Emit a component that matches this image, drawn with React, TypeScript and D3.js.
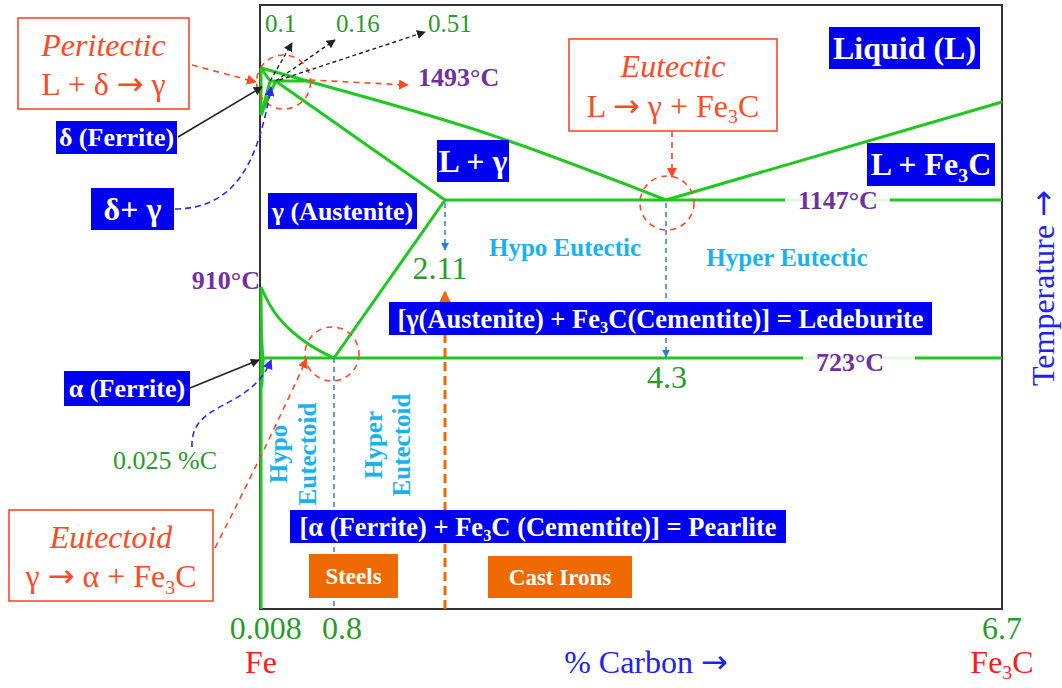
import * as d3 from "d3";

const W = 1062;
const H = 688;

// schematic axes: knots of carbon % and temperature (the diagram is not to scale)
const carbonKnots = [0, 0.8, 2.11, 4.3, 6.7];
const tempKnots = [0, 723, 910, 1147, 1493, 1538, 1780];

// phase boundaries, [wt% C, °C]
const feAxisDelta = [[0, 1538], [0, 1394]];
const feAxisAlpha = [[0, 910], [0, 0]];
const liquidus = [[0, 1538], [0.51, 1493], [2.55, 1338], [4.3, 1147]];
const liquidusFe3C = [[4.3, 1147], [6.7, 1432]];
const solidusAH = [[0, 1538], [0.1, 1493]];
const peritecticLine = [[0.1, 1493], [0.51, 1493]];
const deltaNH = [[0, 1394], [0.1, 1493]];
const deltaNJ = [[0, 1394], [0.16, 1493]];
const solidusJE = [[0.16, 1493], [2.11, 1147]];
const eutecticLine = [[2.11, 1147], [6.7, 1147]];
const a3Line = [[0, 910], [0.19, 830], [0.33, 795], [0.55, 755], [0.69, 736], [0.8, 723]];
const acmLine = [[0.8, 723], [2.11, 1147]];
const eutectoidLine = [[0.025, 723], [6.7, 723]];
const alphaGP = [[0, 910], [0.01, 790], [0.025, 723]];
const solvusPQ = [[0.025, 723], [0.008, 640]];

// labels
const peritecticComps = [0.1, 0.16, 0.51];
const peritecticLabels = ["0.1", "0.16", "0.51"];
const bottomTicks = [0.008, 0.8, 6.7];
const bottomTickLabels = ["0.008", "0.8", "6.7"];
const keyTemps = { peritectic: 1493, eutectic: 1147, a3: 910, eutectoid: 723 };
const keyComps = { E: 2.11, C: 4.3, S: 0.8 };

const serif = "'Liberation Serif', 'Times New Roman', serif";
const arrowFont = "'DejaVu Sans', sans-serif";
const GREEN = "#1ec81e";
const LABEL_GREEN = "#2a9a2a";
const PURPLE = "#7030a0";
const BLUE_BOX = "#0000f0";
const ORANGE = "#ee6a00";
const RED = "#ff4a26";
const SKY = "#19b2f0";

const x = d3.scaleLinear().domain(carbonKnots).range([261, 334, 445, 666, 1002]);
const y = d3.scaleLinear().domain(tempKnots).range([609, 358, 287, 200, 81, 68, 5]);

const line = d3.line<number[]>().x(d => x(d[0])).y(d => y(d[1]));
const smoothX = d3.line<number[]>().x(d => x(d[0])).y(d => y(d[1])).curve(d3.curveMonotoneX);
const smoothY = d3.line<number[]>().x(d => x(d[0])).y(d => y(d[1])).curve(d3.curveMonotoneY);

function fe3c(size: number, key: string) {
  return [
    <tspan key={key + "a"}>Fe</tspan>,
    <tspan key={key + "b"} dy={size * 0.2} fontSize={size * 0.62}>3</tspan>,
    <tspan key={key + "c"} dy={-size * 0.2}>C</tspan>,
  ];
}

const arrow = (key: string) => <tspan key={key} fontFamily={arrowFont}>→</tspan>;

function Tag({ x0, y0, w, h, size, fill, children }: any) {
  return (
    <g>
      <rect x={x0} y={y0} width={w} height={h} fill={fill} />
      <text x={x0 + w / 2} y={y0 + h / 2} dy="0.34em" textAnchor="middle" fontSize={size}
        fontWeight="bold" fill="#fff" fontFamily={serif}>{children}</text>
    </g>
  );
}

function RedBox({ x0, y0, w, h, title, children }: any) {
  return (
    <g fontFamily={serif} fill={RED}>
      <rect x={x0} y={y0} width={w} height={h} fill="#fff" stroke={RED} strokeWidth={1.6} />
      <text x={x0 + w / 2} y={y0 + h * 0.3} dy="0.34em" textAnchor="middle" fontSize={32} fontStyle="italic">{title}</text>
      <text x={x0 + w / 2} y={y0 + h * 0.73} dy="0.34em" textAnchor="middle" fontSize={32}>{children}</text>
    </g>
  );
}

export default function App() {
  const boundaries = [feAxisDelta, feAxisAlpha, liquidusFe3C, solidusAH, peritecticLine,
    deltaNH, deltaNJ, solidusJE, eutecticLine, acmLine, eutectoidLine, solvusPQ];

  const pP = [x(0.16), y(keyTemps.peritectic)];
  const pE = [x(keyComps.E), y(keyTemps.eutectic)];
  const pC = [x(keyComps.C), y(keyTemps.eutectic)];
  const pS = [x(keyComps.S), y(keyTemps.eutectoid)];

  const marker = (id: string, color: string, s = 8) => (
    <marker id={id} viewBox="0 0 10 10" refX={9} refY={5} markerWidth={s} markerHeight={s}
      markerUnits="userSpaceOnUse" orient="auto">
      <path d="M0,0 L10,5 L0,10 z" fill={color} />
    </marker>
  );

  return (
    <svg width={W} height={H} style={{ position: "absolute", left: 0, top: 0, background: "#fff" }}>
      <defs>
        {marker("ak", "#222", 9)}
        {marker("ar", RED, 10)}
        {marker("ab", "#2b2bf0", 10)}
        {marker("as", "#2a7fd4", 8)}
        {marker("ao", ORANGE, 14)}
      </defs>

      {/* frame */}
      <rect x={x(0) - 1} y={y(1780)} width={x(6.7) - x(0) + 1} height={y(0) - y(1780)}
        fill="none" stroke="#333" strokeWidth={2} />

      {/* phase boundaries */}
      <g fill="none" stroke={GREEN} strokeWidth={3} strokeLinejoin="round">
        {boundaries.map((b, i) => <path key={i} d={line(b as any) || ""} />)}
        <path d={smoothX(liquidus as any) || ""} />
        <path d={smoothY(a3Line as any) || ""} />
        <path d={smoothY(alphaGP as any) || ""} strokeWidth={2} />
      </g>

      {/* temperature labels on the lines */}
      <g fontFamily={serif} fontWeight="bold" fontSize={26} fill={PURPLE}>
        <rect x={785} y={y(keyTemps.eutectic) - 11} width={105} height={22} fill="#fff" opacity={0.88} />
        <text x={838} y={y(keyTemps.eutectic)} dy="0.34em" textAnchor="middle">{keyTemps.eutectic}°C</text>
        <rect x={803} y={y(keyTemps.eutectoid) - 9} width={112} height={22} fill="#fff" opacity={0.88} />
        <text x={850} y={y(keyTemps.eutectoid) + 4} dy="0.34em" textAnchor="middle">{keyTemps.eutectoid}°C</text>
        <text x={x(0) - 1} y={y(keyTemps.a3) - 7} dy="0.34em" textAnchor="end">{keyTemps.a3}°C</text>
        <text x={418} y={77} dy="0.34em">{keyTemps.peritectic}°C</text>
      </g>

      {/* dashed circles */}
      <g fill="none" stroke={RED} strokeWidth={1.6} strokeDasharray="6,5">
        <circle cx={pP[0] + 8} cy={pP[1] + 1} r={27} />
        <circle cx={pC[0] + 1} cy={pC[1] + 3} r={27} />
        <circle cx={pS[0] - 2} cy={pS[1] - 4} r={27} />
      </g>

      {/* composition leaders */}
      <g stroke="#2a7fd4" strokeWidth={1.5} strokeDasharray="5,4" fill="none">
        <line x1={pE[0]} y1={pE[1] + 3} x2={pE[0]} y2={250} markerEnd="url(#as)" />
        <line x1={pC[0]} y1={pC[1] + 3} x2={pC[0]} y2={357} markerEnd="url(#as)" />
        <line x1={pS[0]} y1={pS[1]} x2={pS[0]} y2={y(0)} />
      </g>

      {/* steels / cast irons divider */}
      <line x1={pE[0]} y1={y(0)} x2={pE[0]} y2={292} stroke={ORANGE} strokeWidth={3}
        strokeDasharray="9,5" markerEnd="url(#ao)" />

      {/* peritectic composition arrows */}
      <g stroke="#222" strokeWidth={1.4} strokeDasharray="4,3" fill="none">
        <line x1={x(0.1)} y1={y(1493)} x2={292} y2={43} markerEnd="url(#ak)" />
        <line x1={x(0.16)} y1={y(1493)} x2={335} y2={40} markerEnd="url(#ak)" />
        <line x1={x(0.2)} y1={y(1493) - 1} x2={425} y2={32} markerEnd="url(#ak)" />
      </g>
      <g fontFamily={serif} fontSize={25} fill={LABEL_GREEN}>
        {peritecticComps.map((c, i) => (
          <text key={c} x={[265, 336, 428][i]} y={23} dy="0.34em">{peritecticLabels[i]}</text>
        ))}
      </g>

      {/* solid black arrows */}
      <g stroke="#222" strokeWidth={1.6}>
        <line x1={178} y1={137} x2={x(0) + 1} y2={87} markerEnd="url(#ak)" />
        <line x1={190} y1={388} x2={x(0) - 2} y2={y(723) + 2} markerEnd="url(#ak)" />
      </g>

      {/* blue dashed leaders */}
      <g stroke="#2b2bf0" strokeWidth={1.6} strokeDasharray="6,4" fill="none">
        <path d={`M175,209 C238,208 258,160 ${x(0.1) + 1},${y(1493) + 6}`} markerEnd="url(#ab)" />
        <path d={`M192,447 C190,400 250,412 ${x(0.1) + 1},${y(723) + 2}`} markerEnd="url(#ab)" />
      </g>

      {/* red dashed arrows */}
      <g stroke={RED} strokeWidth={1.6} strokeDasharray="6,5" fill="none">
        <line x1={192} y1={65} x2={256} y2={82} markerEnd="url(#ar)" />
        <line x1={x(0.51) + 2} y1={y(1493) - 1} x2={408} y2={85} markerEnd="url(#ar)" />
        <line x1={672} y1={131} x2={672} y2={177} markerEnd="url(#ar)" />
        <path d={`M215,548 Q265,450 ${x(0.5)},${y(723) + 1}`} markerEnd="url(#ar)" />
      </g>

      {/* red boxes */}
      <RedBox x0={18} y0={18} w={171} h={91} title="Peritectic">L + δ {arrow("p")} γ</RedBox>
      <RedBox x0={569} y0={39} w={208} h={92} title="Eutectic">L {arrow("e")} γ + {fe3c(32, "eu")}</RedBox>
      <RedBox x0={9} y0={510} w={204} h={91} title="Eutectoid">γ {arrow("d")} α + {fe3c(32, "ed")}</RedBox>

      {/* phase labels */}
      <Tag x0={829} y0={27} w={151} h={42} size={32} fill={BLUE_BOX}>Liquid (L)</Tag>
      <Tag x0={867} y0={143} w={128} h={43} size={32} fill={BLUE_BOX}>L + {fe3c(32, "lf")}</Tag>
      <Tag x0={437} y0={140} w={72} h={42} size={32} fill={BLUE_BOX}>L + γ</Tag>
      <Tag x0={268} y0={193} w={149} h={36} size={26} fill={BLUE_BOX}>γ (Austenite)</Tag>
      <Tag x0={56} y0={121} w={121} h={33} size={26} fill={BLUE_BOX}>δ (Ferrite)</Tag>
      <Tag x0={91} y0={188} w={83} h={42} size={32} fill={BLUE_BOX}>δ+ γ</Tag>
      <Tag x0={64} y0={371} w={126} h={35} size={26} fill={BLUE_BOX}>α (Ferrite)</Tag>
      <Tag x0={389} y0={302} w={543} h={33} size={26.5} fill={BLUE_BOX}>
        [γ(Austenite) + {fe3c(26.5, "le")}(Cementite)] = Ledeburite
      </Tag>
      <Tag x0={290} y0={510} w={496} h={33} size={26.5} fill={BLUE_BOX}>
        [α (Ferrite) + {fe3c(26.5, "pe")} (Cementite)] = Pearlite
      </Tag>
      <Tag x0={309} y0={554} w={89} h={44} size={23} fill={ORANGE}>Steels</Tag>
      <Tag x0={488} y0={556} w={144} h={42} size={23} fill={ORANGE}>Cast Irons</Tag>

      {/* region notes */}
      <g fontFamily={serif} fontWeight="bold" fontSize={25} fill={SKY}>
        <text x={565} y={247} dy="0.34em" textAnchor="middle">Hypo Eutectic</text>
        <text x={787} y={257} dy="0.34em" textAnchor="middle">Hyper Eutectic</text>
        <text transform="translate(278,454) rotate(-90)" dy="0.34em" textAnchor="middle">Hypo</text>
        <text transform="translate(307,454) rotate(-90)" dy="0.34em" textAnchor="middle">Eutectoid</text>
        <text transform="translate(373,445) rotate(-90)" dy="0.34em" textAnchor="middle">Hyper</text>
        <text transform="translate(401,445) rotate(-90)" dy="0.34em" textAnchor="middle">Eutectoid</text>
      </g>

      {/* composition numbers */}
      <g fontFamily={serif} fill={LABEL_GREEN}>
        <text x={pE[0] - 5} y={268} dy="0.34em" textAnchor="middle" fontSize={32}>{keyComps.E}</text>
        <text x={pC[0] + 1} y={377} dy="0.34em" textAnchor="middle" fontSize={32}>{keyComps.C}</text>
        <text x={165} y={460} dy="0.34em" textAnchor="middle" fontSize={26}>0.025 %C</text>
        {bottomTicks.map((c, i) => (
          <text key={c} x={x(c) + [4, 8, 0][i]} y={628} dy="0.34em" textAnchor="middle" fontSize={32}>
            {bottomTickLabels[i]}
          </text>
        ))}
      </g>

      {/* axis titles */}
      <g fontFamily={serif} fontSize={32}>
        <text x={x(0)} y={662} dy="0.34em" textAnchor="middle" fill="#ff1a1a">Fe</text>
        <text x={x(6.7)} y={662} dy="0.34em" textAnchor="middle" fill="#ff1a1a">{fe3c(32, "ax")}</text>
        <text x={646} y={662} dy="0.34em" textAnchor="middle" fill="#2222ee">% Carbon  {arrow("c")}</text>
        <text transform="translate(1043,288) rotate(-90)" dy="0.34em" textAnchor="middle" fill="#2222ee">
          Temperature  {arrow("t")}
        </text>
      </g>
    </svg>
  );
}
